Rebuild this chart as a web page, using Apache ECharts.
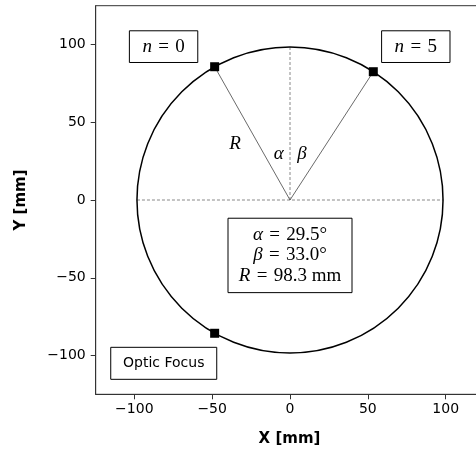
<!DOCTYPE html>
<html>
<head>
<meta charset="utf-8">
<script src="https://cdn.jsdelivr.net/npm/echarts@6/dist/echarts.min.js"></script>
<style>html,body{margin:0;padding:0;background:#fff}#c{width:476px;height:451px}</style>
</head>
<body>
<div id="c"></div>
<script>
// ---- data ----
const xTicks = [-100, -50, 0, 50, 100];
const yTicks = [-100, -50, 0, 50, 100];
const axisMin = -124.8, axisMax = 124.8;
const R = 98.3;
const alphaDeg = 29.5;
const betaDeg = 33.0;
const center = [0, 0];
const markerN0 = [-48.4, 85.6];
const markerN5 = [53.5, 82.4];
const markerFocus = [-48.4, -85.6];
const markerPoints = [markerN0, markerN5, markerFocus];
const radiusLineA = [center, markerN0];
const radiusLineB = [center, markerN5];
const guideVertical = [[0, 0], [0, R]];
const guideHorizontal = [[-R, 0], [R, 0]];

const minus = v => String(v).replace('-', '\u2212');
const sans = 'DejaVu Sans';
const serif = 'Liberation Serif';
const sp = '\u2004';

const chart = echarts.init(document.getElementById('c'), null, {renderer: 'canvas'});
const option = {
  animation: false,
  backgroundColor: '#fff',
  grid: {left: 95.7, top: 5.7, width: 388.6, height: 388.6, show: true,
         outerBoundsMode: 'none', containLabel: false,
         borderColor: '#333', borderWidth: 1, backgroundColor: 'transparent'},
  xAxis: {
    type: 'value', min: axisMin, max: axisMax,
    axisLine: {show: true, onZero: false, lineStyle: {color: '#333', width: 1}},
    axisTick: {show: true, length: 5, customValues: xTicks, lineStyle: {color: '#333'}},
    axisLabel: {customValues: xTicks, fontSize: 14, fontFamily: sans, color: '#000', margin: 8, formatter: minus},
    splitLine: {show: false}
  },
  yAxis: {
    type: 'value', min: axisMin, max: axisMax,
    axisLine: {show: true, onZero: false, lineStyle: {color: '#333', width: 1}},
    axisTick: {show: true, length: 5, customValues: yTicks, lineStyle: {color: '#333'}},
    axisLabel: {customValues: yTicks, fontSize: 14, fontFamily: sans, color: '#000', margin: 10, formatter: minus},
    splitLine: {show: false}
  },
  series: [
    {
      type: 'line', data: guideVertical, symbol: 'none', silent: true,
      lineStyle: {color: '#888', width: 1, type: [3, 2]}, z: 1
    },
    {
      type: 'line', data: guideHorizontal, symbol: 'none', silent: true,
      lineStyle: {color: '#888', width: 1, type: [3, 2]}, z: 1
    },
    {
      type: 'line', data: radiusLineA, symbol: 'none', silent: true,
      lineStyle: {color: '#444', width: 0.8}, z: 2
    },
    {
      type: 'line', data: radiusLineB, symbol: 'none', silent: true,
      lineStyle: {color: '#444', width: 0.8}, z: 2
    },
    {
      type: 'custom', data: [[center[0], center[1], R]], silent: true, z: 3,
      renderItem: function (params, api) {
        const c = api.coord([api.value(0), api.value(1)]);
        const r = api.size([api.value(2), 0])[0];
        return {type: 'circle', shape: {cx: c[0], cy: c[1], r: r},
                style: {fill: 'none', stroke: '#000', lineWidth: 1.5}};
      }
    },
    {
      type: 'scatter', data: markerPoints, symbol: 'rect', symbolSize: 9, silent: true,
      itemStyle: {color: '#000', opacity: 1}, z: 4
    }
  ]
};
chart.setOption(option);

const px = p => chart.convertToPixel({gridIndex: 0}, p);
const italic = {fontStyle: 'italic', fontFamily: serif, fontSize: 19, fill: '#000'};
function box(anchor, w, h, text, style) {
  const p = px(anchor);
  return [
    {type: 'rect', z: 100, shape: {x: p[0] - w / 2, y: p[1] - h / 2, width: w, height: h},
     style: {fill: '#fff', stroke: '#000', lineWidth: 1}},
    {type: 'text', z: 101, x: p[0], y: p[1],
     style: Object.assign({text: text, align: 'center', verticalAlign: 'middle', fill: '#000'}, style)}
  ];
}
function label(anchor, text) {
  const p = px(anchor);
  return {type: 'text', z: 101, x: p[0], y: p[1],
          style: {text: text, align: 'center', verticalAlign: 'middle', fill: '#000',
                  fontStyle: 'italic', fontFamily: serif, fontSize: 19}};
}
const eq = sp + '=' + sp;
const mathStyle = {fontFamily: serif, fontSize: 19, rich: {i: italic}};
const graphics = [].concat(
  box([-81.2, 98.5], 68.4, 31.7, '{i|n}' + eq + '0', mathStyle),
  box([80.8, 98.5], 68.4, 31.7, '{i|n}' + eq + '5', mathStyle),
  box([0, -35.6], 124, 74.4,
      '{i|α}' + eq + alphaDeg.toFixed(1) + '°\n{i|β}' + eq + betaDeg.toFixed(1) + '°\n{i|R}' + eq + R.toFixed(1) + ' mm',
      {fontFamily: serif, fontSize: 19, lineHeight: 20.5, rich: {i: Object.assign({lineHeight: 20.5}, italic)}}),
  box([-81.1, -104.9], 106, 32, 'Optic Focus', {fontFamily: sans, fontSize: 14}),
  [
    label([-35.3, 36], 'R'),
    label([-7.3, 29.5], 'α'),
    label([7.7, 29.5], 'β'),
    {type: 'text', x: 289.5, y: 439.5,
     style: {text: 'X [mm]', align: 'center', verticalAlign: 'middle', fill: '#000',
             fontFamily: sans, fontWeight: 'bold', fontSize: 15}},
    {type: 'text', x: 21, y: 200, rotation: Math.PI / 2,
     style: {text: 'Y [mm]', align: 'center', verticalAlign: 'middle', fill: '#000',
             fontFamily: sans, fontWeight: 'bold', fontSize: 15}}
  ]
);
chart.setOption({graphic: graphics});
</script>
</body>
</html>
